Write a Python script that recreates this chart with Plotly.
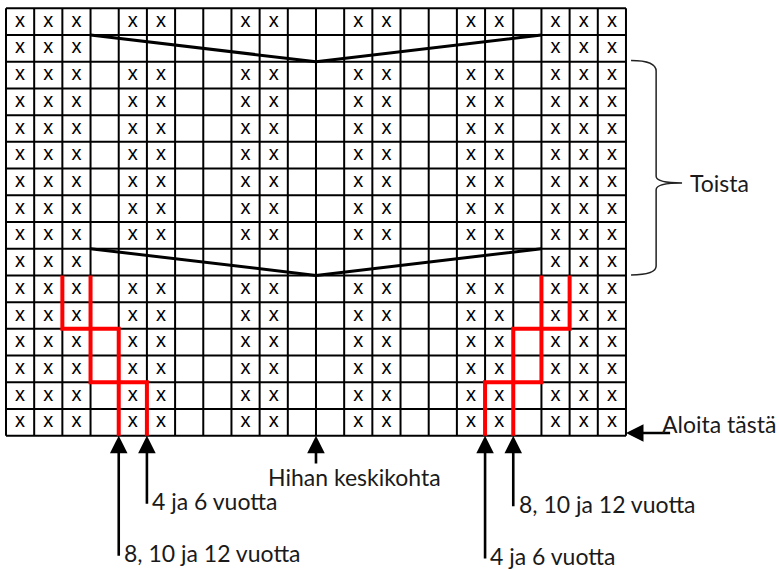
import plotly.graph_objects as go

# ---------------- data ----------------
n_cols = 22
n_rows = 16
stitch_cols = [0, 1, 2, 4, 5, 8, 9, 12, 13, 16, 17, 19, 20, 21]   # "x" columns in normal rows
edge_cols = [0, 1, 2, 19, 20, 21]                                  # "x" columns in decrease rows
decrease_rows = [1, 9]                                             # rows (from top) with decrease
center_col = 11
# red size-lines (col edge, row edge) on left side; right side is mirrored
red_path_a = [(2, 10), (2, 12), (4, 12), (4, 16)]
red_path_b = [(3, 10), (3, 14), (5, 14), (5, 16)]
# bottom arrows: column edge, tail row position, label
arrow_cols = [4, 5, 11, 17, 18]
arrow_tails = [20.55, 18.6, 17.1, 20.65, 18.7]
arrow_labels = ["8, 10 ja 12 vuotta", "4 ja 6 vuotta", "Hihan keskikohta",
                "4 ja 6 vuotta", "8, 10 ja 12 vuotta"]
repeat_rows = [2, 10]
repeat_label = "Toista"
start_label = "Aloita tästä"

FONT = "Lato"
FSIZE = 23
fig = go.Figure()

# grid lines
gx, gy = [], []
for c in range(n_cols + 1):
    gx += [c, c, None]
    gy += [0, n_rows, None]
for r in range(n_rows + 1):
    gx += [0, n_cols, None]
    gy += [r, r, None]
fig.add_trace(go.Scatter(x=gx, y=gy, mode="lines", line=dict(color="black", width=2),
                         hoverinfo="skip", showlegend=False))

# x stitches
tx, ty = [], []
for r in range(n_rows):
    cols = edge_cols if r in decrease_rows else stitch_cols
    for c in cols:
        tx.append(c + 0.5)
        ty.append(r + 0.5)
fig.add_trace(go.Scatter(x=tx, y=ty, mode="text", text=["x"] * len(tx),
                         textposition="middle center",
                         textfont=dict(family="Liberation Sans", size=20, color="black"),
                         hoverinfo="skip", showlegend=False))

# decrease lines
for r in decrease_rows:
    fig.add_trace(go.Scatter(x=[3, center_col, n_cols - 3], y=[r, r + 1, r],
                             mode="lines", line=dict(color="black", width=3),
                             hoverinfo="skip", showlegend=False))

# red lines
for path in (red_path_a, red_path_b):
    for mirrored in (False, True):
        xs = [n_cols - p[0] if mirrored else p[0] for p in path]
        ys = [p[1] for p in path]
        fig.add_trace(go.Scatter(x=xs, y=ys, mode="lines",
                                 line=dict(color="#ff0000", width=4),
                                 hoverinfo="skip", showlegend=False))

annotations = []
# bottom arrows
for c, tail, lab in zip(arrow_cols, arrow_tails, arrow_labels):
    annotations.append(dict(x=c, y=n_rows, ax=c, ay=tail, xref="x", yref="y",
                            axref="x", ayref="y", text="", showarrow=True,
                            arrowhead=2, arrowsize=1.35, arrowwidth=2.6,
                            arrowcolor="black", standoff=0))
    if c == center_col:
        annotations.append(dict(x=c + 1.35, y=tail + 0.45, xref="x", yref="y",
                                text=lab, showarrow=False, xanchor="center",
                                yanchor="middle",
                                font=dict(family=FONT, size=FSIZE, color="#1a1a1a")))
    else:
        annotations.append(dict(x=c + 0.12, y=tail - 0.15, xref="x", yref="y",
                                text=lab, showarrow=False, xanchor="left",
                                yanchor="middle",
                                font=dict(family=FONT, size=FSIZE, color="#1a1a1a")))

# start arrow
annotations.append(dict(x=n_cols, y=n_rows - 0.1, ax=n_cols + 1.62, ay=n_rows - 0.1,
                        xref="x", yref="y", axref="x", ayref="y", text="",
                        showarrow=True, arrowhead=2, arrowsize=1.35, arrowwidth=2.6,
                        arrowcolor="black", standoff=0))
annotations.append(dict(x=27.4, y=n_rows - 0.45, xref="x", yref="y",
                        text=start_label, showarrow=False, xanchor="right",
                        yanchor="middle", font=dict(family=FONT, size=FSIZE, color="#1a1a1a")))

# repeat bracket
y0, y1 = repeat_rows
ym = (y0 + y1) / 2 + 0.54
x0, xm, xt = n_cols + 0.18, n_cols + 1.07, n_cols + 1.99
path = (f"M {x0},{y0 - 0.05} Q {xm},{y0 - 0.05} {xm},{y0 + 0.35} "
        f"L {xm},{ym - 0.25} Q {xm},{ym} {xt},{ym} "
        f"Q {xm},{ym} {xm},{ym + 0.25} "
        f"L {xm},{y1 - 0.35} Q {xm},{y1 - 0.02} {x0},{y1 - 0.02}")
shapes = [dict(type="path", path=path, xref="x", yref="y",
               line=dict(color="#222222", width=1.5))]
annotations.append(dict(x=xt + 0.2, y=ym, xref="x", yref="y", text=repeat_label,
                        showarrow=False, xanchor="left", yanchor="middle",
                        font=dict(family=FONT, size=FSIZE, color="#1a1a1a")))

fig.update_layout(
    width=779, height=569, autosize=False,
    margin=dict(l=0, r=0, t=0, b=0),
    paper_bgcolor="white", plot_bgcolor="white",
    xaxis=dict(range=[-0.213, 27.43], visible=False, fixedrange=True),
    yaxis=dict(range=[20.99, -0.311], visible=False, fixedrange=True),
    annotations=annotations, shapes=shapes,
)
fig.write_html("out.html", config={"displayModeBar": False},
               post_script="document.body.style.margin='0';document.body.style.overflow='hidden';")
